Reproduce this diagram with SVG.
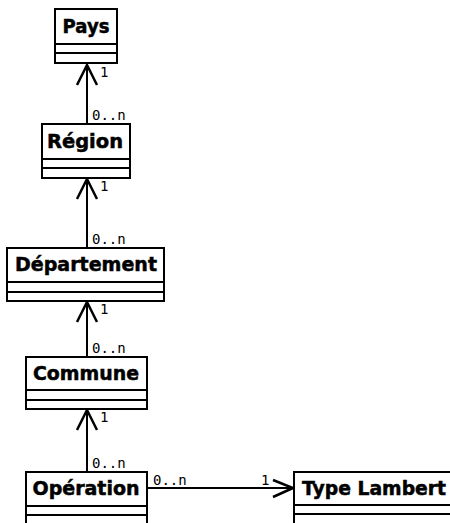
<svg xmlns="http://www.w3.org/2000/svg" width="450" height="523" viewBox="0 0 450 523">
  <defs>
    <style>
      .box { fill: #ffffff; stroke: #000000; stroke-width: 2; }
      .sep { stroke: #000000; stroke-width: 2; }
      .title { font-family: "DejaVu Sans", "Liberation Sans", sans-serif; font-weight: bold; font-size: 19px; fill: #000000; stroke: #000000; stroke-width: 0.5; }
      .mult { font-family: "DejaVu Sans Mono", "Liberation Mono", monospace; font-size: 14px; fill: #000000; }
      .edge { stroke: #000000; stroke-width: 2; fill: none; }
      .head { stroke: #000000; stroke-width: 2.5; fill: none; stroke-linejoin: miter; }
    </style>
  </defs>
  <rect width="450" height="523" fill="#ffffff"/>

  <!-- Associations: open arrowhead at the "1" end -->
  <g id="connectors">
    <line class="edge" x1="87" y1="64" x2="87" y2="124"/>
    <polyline class="head" points="77,85 87,65 97,85"/>
    <text class="mult" x="100" y="77">1</text>
    <text class="mult" x="92" y="120">0..n</text>

    <line class="edge" x1="87" y1="178" x2="87" y2="248"/>
    <polyline class="head" points="77,199 87,179 97,199"/>
    <text class="mult" x="100" y="191">1</text>
    <text class="mult" x="92" y="244">0..n</text>

    <line class="edge" x1="87" y1="301" x2="87" y2="357"/>
    <polyline class="head" points="77,322 87,302 97,322"/>
    <text class="mult" x="100" y="314">1</text>
    <text class="mult" x="92" y="353">0..n</text>

    <line class="edge" x1="87" y1="409" x2="87" y2="472"/>
    <polyline class="head" points="77,430 87,410 97,430"/>
    <text class="mult" x="100" y="422">1</text>
    <text class="mult" x="92" y="468">0..n</text>

    <line class="edge" x1="147" y1="488" x2="294" y2="488"/>
    <polyline class="head" points="273,480 293,488 273,497"/>
    <text class="mult" x="153" y="485">0..n</text>
    <text class="mult" x="261" y="485">1</text>
  </g>

  <g id="pays">
    <rect class="box" x="55" y="9" width="62" height="54"/>
    <line class="sep" x1="55" y1="44" x2="117" y2="44"/>
    <line class="sep" x1="55" y1="53" x2="117" y2="53"/>
    <text class="title" x="86" y="33" text-anchor="middle" textLength="47" lengthAdjust="spacingAndGlyphs">Pays</text>
  </g>

  <g id="region">
    <rect class="box" x="42" y="124" width="88" height="54"/>
    <line class="sep" x1="42" y1="159" x2="130" y2="159"/>
    <line class="sep" x1="42" y1="168" x2="130" y2="168"/>
    <text class="title" x="85" y="148" text-anchor="middle" textLength="76" lengthAdjust="spacingAndGlyphs">Région</text>
  </g>

  <g id="departement">
    <rect class="box" x="7" y="248" width="157" height="53"/>
    <line class="sep" x1="7" y1="282" x2="164" y2="282"/>
    <line class="sep" x1="7" y1="292" x2="164" y2="292"/>
    <text class="title" x="86" y="271" text-anchor="middle" textLength="142" lengthAdjust="spacingAndGlyphs">Département</text>
  </g>

  <g id="commune">
    <rect class="box" x="26" y="357" width="121" height="52"/>
    <line class="sep" x1="26" y1="390" x2="147" y2="390"/>
    <line class="sep" x1="26" y1="400" x2="147" y2="400"/>
    <text class="title" x="86" y="380" text-anchor="middle" textLength="106" lengthAdjust="spacingAndGlyphs">Commune</text>
  </g>

  <g id="operation">
    <rect class="box" x="26" y="472" width="121" height="53"/>
    <line class="sep" x1="26" y1="506" x2="147" y2="506"/>
    <line class="sep" x1="26" y1="515" x2="147" y2="515"/>
    <text class="title" x="86" y="495" text-anchor="middle" textLength="107" lengthAdjust="spacingAndGlyphs">Opération</text>
  </g>

  <g id="type-lambert">
    <rect class="box" x="294" y="472" width="160" height="53"/>
    <line class="sep" x1="294" y1="505" x2="454" y2="505"/>
    <line class="sep" x1="294" y1="514" x2="454" y2="514"/>
    <text class="title" x="302" y="495" textLength="144" lengthAdjust="spacingAndGlyphs">Type Lambert</text>
  </g>
</svg>
